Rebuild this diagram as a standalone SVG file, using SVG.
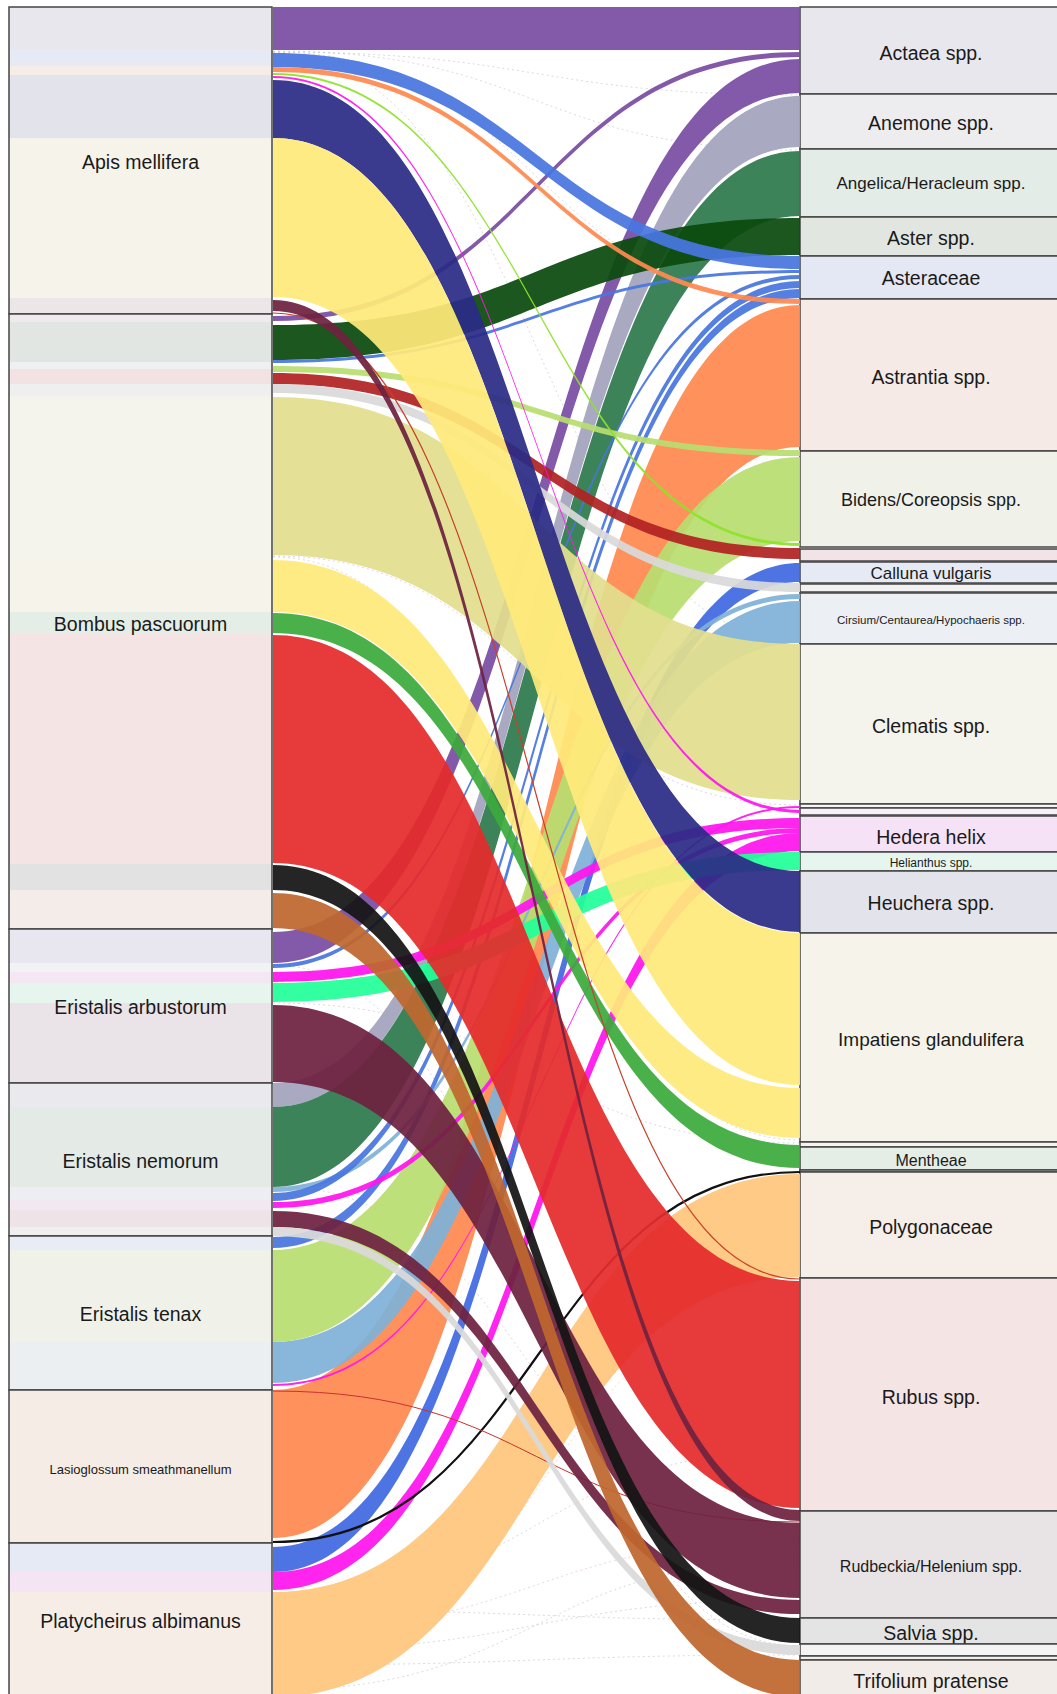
<svg xmlns="http://www.w3.org/2000/svg" width="1057" height="1694" viewBox="0 0 1057 1694">
  <style>
    .box{fill:none;stroke:#444;stroke-width:1.5}
    .lbl{font-family:"Liberation Sans",Arial,sans-serif;font-size:19.5px;fill:#1a1a1a;text-anchor:middle}
    .pu{fill:#7A4EA3}.an{fill:#A3A3BC}.ag{fill:#2E7A4E}.as{fill:#0B4A0E}.bl{fill:#4876E0}
    .or{fill:#FF8A50}.lg{fill:#B8DE70}.ch{fill:#8EE22A}.dr{fill:#B22222}.cb{fill:#4169E1}
    .gy{fill:#D9D9D9}.lb{fill:#80B2D8}.kh{fill:#E2DF8E}.mg{fill:#FF14EE}.sg{fill:#22FF99}
    .nv{fill:#2B2B85}.ye{fill:#FFE97A}.gr{fill:#3CAA3C}.po{fill:#FFC67C}.rd{fill:#E52B2B}
    .mr{fill:#6E2240}.bk{fill:#141414}.br{fill:#C0672E}
    .minor{fill:none;stroke:#8a8a9a;stroke-width:0.8;stroke-dasharray:2 3;opacity:0.4}
  </style>
  <rect width="1057" height="1694" fill="#ffffff"/>

  <!-- insect (left) nodes -->
  <g id="node-apis-mellifera">
    <rect x="9" y="7" width="263" height="43" fill="#E9E7EE"/>
    <rect x="9" y="50" width="263" height="16" fill="#E6EAF4"/>
    <rect x="9" y="66" width="263" height="9" fill="#F6EEE6"/>
    <rect x="9" y="75" width="263" height="63" fill="#E3E3EC"/>
    <rect x="9" y="138" width="263" height="160" fill="#F6F4EA"/>
    <rect x="9" y="298" width="263" height="16" fill="#EDE6E8"/>
    <rect class="box" x="9" y="7" width="263" height="307"/>
    <text class="lbl" x="140.5" y="169">Apis mellifera</text>
  </g>
  <g id="node-bombus-pascuorum">
    <rect x="9" y="314" width="263" height="8" fill="#EEEAEE"/>
    <rect x="9" y="322" width="263" height="40" fill="#E2E6E2"/>
    <rect x="9" y="362" width="263" height="7" fill="#EEF0F2"/>
    <rect x="9" y="369" width="263" height="15" fill="#F2E2E4"/>
    <rect x="9" y="384" width="263" height="12" fill="#EFEFF0"/>
    <rect x="9" y="396" width="263" height="162" fill="#F4F3EC"/>
    <rect x="9" y="558" width="263" height="54" fill="#F6F4EA"/>
    <rect x="9" y="612" width="263" height="22" fill="#E4EDE6"/>
    <rect x="9" y="634" width="263" height="230" fill="#F4E4E4"/>
    <rect x="9" y="864" width="263" height="26" fill="#E2E2E2"/>
    <rect x="9" y="890" width="263" height="39" fill="#F4ECE8"/>
    <rect class="box" x="9" y="314" width="263" height="615"/>
    <text class="lbl" x="140.5" y="631">Bombus pascuorum</text>
  </g>
  <g id="node-eristalis-arbustorum">
    <rect x="9" y="929" width="263" height="34" fill="#E8E6EE"/>
    <rect x="9" y="963" width="263" height="9" fill="#F2F2F4"/>
    <rect x="9" y="972" width="263" height="11" fill="#F4E6F2"/>
    <rect x="9" y="983" width="263" height="20" fill="#E6F6EE"/>
    <rect x="9" y="1003" width="263" height="80" fill="#EAE4E8"/>
    <rect class="box" x="9" y="929" width="263" height="154"/>
    <text class="lbl" x="140.5" y="1014">Eristalis arbustorum</text>
  </g>
  <g id="node-eristalis-nemorum">
    <rect x="9" y="1083" width="263" height="24" fill="#EAEAEE"/>
    <rect x="9" y="1107" width="263" height="80" fill="#E4EAE6"/>
    <rect x="9" y="1187" width="263" height="13" fill="#ECEEF2"/>
    <rect x="9" y="1200" width="263" height="10" fill="#F2E8F2"/>
    <rect x="9" y="1210" width="263" height="17" fill="#EEE4E8"/>
    <rect x="9" y="1227" width="263" height="9" fill="#EFEFEF"/>
    <rect class="box" x="9" y="1083" width="263" height="153"/>
    <text class="lbl" x="140.5" y="1168">Eristalis nemorum</text>
  </g>
  <g id="node-eristalis-tenax">
    <rect x="9" y="1236" width="263" height="14" fill="#E8ECF4"/>
    <rect x="9" y="1250" width="263" height="92" fill="#F0F2EA"/>
    <rect x="9" y="1342" width="263" height="48" fill="#ECEFF2"/>
    <rect class="box" x="9" y="1236" width="263" height="154"/>
    <text class="lbl" x="140.5" y="1321">Eristalis tenax</text>
  </g>
  <g id="node-lasioglossum-smeathmanellum">
    <rect x="9" y="1390" width="263" height="153" fill="#F5ECE6"/>
    <rect class="box" x="9" y="1390" width="263" height="153"/>
    <text class="lbl" x="140.5" y="1473.5" style="font-size:13px">Lasioglossum smeathmanellum</text>
  </g>
  <g id="node-platycheirus-albimanus">
    <rect x="9" y="1543" width="263" height="29" fill="#E6EAF4"/>
    <rect x="9" y="1572" width="263" height="20" fill="#F4E4F4"/>
    <rect x="9" y="1592" width="263" height="110" fill="#F6EEE6"/>
    <rect class="box" x="9" y="1543" width="263" height="160"/>
    <text class="lbl" x="140.5" y="1628">Platycheirus albimanus</text>
  </g>

  <!-- plant (right) nodes -->
  <g id="node-actaea"><rect x="800" y="7" width="262" height="87" style="fill:#E9E7EE" class="box"/><text class="lbl" x="931" y="60">Actaea spp.</text></g>
  <g id="node-anemone"><rect x="800" y="94" width="262" height="55" style="fill:#EDEDF0" class="box"/><text class="lbl" x="931" y="130">Anemone spp.</text></g>
  <g id="node-angelica"><rect x="800" y="149" width="262" height="68" style="fill:#E3ECE6" class="box"/><text class="lbl" x="931" y="189" style="font-size:17px">Angelica/Heracleum spp.</text></g>
  <g id="node-aster"><rect x="800" y="217" width="262" height="39" style="fill:#E2E6E0" class="box"/><text class="lbl" x="931" y="245">Aster spp.</text></g>
  <g id="node-asteraceae"><rect x="800" y="256" width="262" height="43" style="fill:#E4E8F4" class="box"/><text class="lbl" x="931" y="285">Asteraceae</text></g>
  <g id="node-astrantia"><rect x="800" y="299" width="262" height="152" style="fill:#F5EAE6" class="box"/><text class="lbl" x="931" y="384">Astrantia spp.</text></g>
  <g id="node-bidens"><rect x="800" y="451" width="262" height="96" style="fill:#F0F2EA" class="box"/><text class="lbl" x="931" y="506" style="font-size:18px">Bidens/Coreopsis spp.</text></g>
  <g id="node-small-1"><rect x="800" y="549" width="262" height="12" style="fill:#F2E4E6" class="box"/></g>
  <g id="node-calluna"><rect x="800" y="562" width="262" height="21" style="fill:#E6EAF4" class="box"/><text class="lbl" x="931" y="579" style="font-size:17px">Calluna vulgaris</text></g>
  <g id="node-small-2"><rect x="800" y="584" width="262" height="8" style="fill:#F2F2F2" class="box"/></g>
  <g id="node-cirsium"><rect x="800" y="593" width="262" height="51" style="fill:#ECF0F4" class="box"/><text class="lbl" x="931" y="624" style="font-size:11.5px">Cirsium/Centaurea/Hypochaeris spp.</text></g>
  <g id="node-clematis"><rect x="800" y="644" width="262" height="160" style="fill:#F4F3EC" class="box"/><text class="lbl" x="931" y="733">Clematis spp.</text></g>
  <g id="node-small-3"><rect x="800" y="804" width="262" height="4" style="fill:#F8F4F8" class="box"/></g>
  <g id="node-small-4"><rect x="800" y="808" width="262" height="7" style="fill:#F8F0F8" class="box"/></g>
  <g id="node-hedera"><rect x="800" y="816" width="262" height="36" style="fill:#F6E2F6" class="box"/><text class="lbl" x="931" y="844">Hedera helix</text></g>
  <g id="node-helianthus"><rect x="800" y="852" width="262" height="19" style="fill:#E6F6EE" class="box"/><text class="lbl" x="931" y="867" style="font-size:12px">Helianthus spp.</text></g>
  <g id="node-heuchera"><rect x="800" y="871" width="262" height="62" style="fill:#E3E3EC" class="box"/><text class="lbl" x="931" y="910">Heuchera spp.</text></g>
  <g id="node-impatiens"><rect x="800" y="933" width="262" height="209" style="fill:#F6F4EA" class="box"/><text class="lbl" x="931" y="1046" style="font-size:19px">Impatiens glandulifera</text></g>
  <g id="node-small-5"><rect x="800" y="1142" width="262" height="5" style="fill:#F4F4F0" class="box"/></g>
  <g id="node-mentheae"><rect x="800" y="1147" width="262" height="23" style="fill:#E4EEE6" class="box"/><text class="lbl" x="931" y="1165.5" style="font-size:16px">Mentheae</text></g>
  <g id="node-small-6"><rect x="800" y="1170" width="262" height="2" style="fill:#F0F0F0" class="box"/></g>
  <g id="node-polygonaceae"><rect x="800" y="1172" width="262" height="106" style="fill:#F6EEE8" class="box"/><text class="lbl" x="931" y="1234">Polygonaceae</text></g>
  <g id="node-rubus"><rect x="800" y="1278" width="262" height="233" style="fill:#F4E4E4" class="box"/><text class="lbl" x="931" y="1404">Rubus spp.</text></g>
  <g id="node-rudbeckia"><rect x="800" y="1511" width="262" height="107" style="fill:#E8E4E6" class="box"/><text class="lbl" x="931" y="1571.5" style="font-size:16px">Rudbeckia/Helenium spp.</text></g>
  <g id="node-salvia"><rect x="800" y="1618" width="262" height="26" style="fill:#E4E4E4" class="box"/><text class="lbl" x="931" y="1640">Salvia spp.</text></g>
  <g id="node-small-7"><rect x="800" y="1644" width="262" height="12" style="fill:#F4F4F4" class="box"/></g>
  <g id="node-small-8"><rect x="800" y="1656" width="262" height="4" style="fill:#F0F0F0" class="box"/></g>
  <g id="node-trifolium"><rect x="800" y="1660" width="262" height="40" style="fill:#F2ECE8" class="box"/><text class="lbl" x="931" y="1688">Trifolium pratense</text></g>

  <!-- faint minor interactions -->
  <g id="minor-links">
    <path class="minor" d="M273 51 C536 51 536 150 800 150"/>
    <path class="minor" d="M273 52 C536 52 536 300 800 300"/>
    <path class="minor" d="M273 52 C536 52 536 95 800 95"/>
    <path class="minor" d="M273 53 C536 53 536 640 800 640"/>
    <path class="minor" d="M273 1610 C536 1610 536 1620 800 1620"/>
    <path class="minor" d="M273 1630 C536 1630 536 1540 800 1540" style="stroke:#c08090"/>
    <path class="minor" d="M273 1650 C536 1650 536 1600 800 1600"/>
    <path class="minor" d="M273 1665 C536 1665 536 1655 800 1655"/>
    <path class="minor" d="M273 1680 C536 1680 536 1300 800 1300" style="stroke:#c08090"/>
    <path class="minor" d="M273 1600 C536 1600 536 1450 800 1450"/>
    <path class="minor" d="M273 1690 C536 1690 536 1560 800 1560"/>
    <path class="minor" d="M273 557 C536 557 536 1140 800 1140"/>
    <path class="minor" d="M273 556 C536 556 536 805 800 805" style="stroke:#a070c0"/>
    <path class="minor" d="M273 965 C536 965 536 1646 800 1646"/>
    <path class="minor" d="M273 1003 C536 1003 536 1143 800 1143"/>
    <path class="minor" d="M273 1186 C536 1186 536 1560 800 1560"/>
  </g>

  <!-- interaction bands -->
  <g id="links" fill-opacity="0.93">
    <!-- Platycheirus albimanus -->
    <path class="po" d="M273 1592 C536.5 1592 536.5 1174 800 1174 L800 1277 C536.5 1277 536.5 1697 273 1697 Z"/>
    <path class="mg" d="M273 1572 C536.5 1572 536.5 833 800 833 L800 851 C536.5 851 536.5 1590 273 1590 Z"/>
    <path class="cb" d="M273 1547 C536.5 1547 536.5 563 800 563 L800 582 C536.5 582 536.5 1572 273 1572 Z"/>
    <!-- Lasioglossum smeathmanellum -->
    <path class="or" d="M273 1390 C536.5 1390 536.5 305 800 305 L800 447 C536.5 447 536.5 1538 273 1538 Z"/>
    <path d="M273 1542 C536.5 1542 536.5 1172 800 1172" fill="none" stroke="#111" stroke-width="2.2"/>
    <path d="M273 1391 C536.5 1391 536.5 1522 800 1522" fill="none" stroke="#C83030" stroke-width="1"/>
    <!-- Eristalis tenax -->
    <path class="lb" d="M273 1342 C536.5 1342 536.5 601 800 601 L800 643 C536.5 643 536.5 1383 273 1383 Z"/>
    <path class="lg" d="M273 1250 C536.5 1250 536.5 457 800 457 L800 541 C536.5 541 536.5 1342 273 1342 Z"/>
    <path class="bl" d="M273 1237 C536.5 1237 536.5 289 800 289 L800 298 C536.5 298 536.5 1248 273 1248 Z"/>
    <path class="mg" d="M273 1384 C536.5 1384 536.5 806 800 806 L800 808 C536.5 808 536.5 1386 273 1386 Z"/>
    <!-- Eristalis nemorum -->
    <path class="an" d="M273 1083 C536.5 1083 536.5 96 800 96 L800 147 C536.5 147 536.5 1107 273 1107 Z"/>
    <path class="ag" d="M273 1107 C536.5 1107 536.5 151 800 151 L800 216 C536.5 216 536.5 1187 273 1187 Z"/>
    <path class="lb" d="M273 1187 C536.5 1187 536.5 594 800 594 L800 599 C536.5 599 536.5 1192 273 1192 Z"/>
    <path class="bl" d="M273 1193 C536.5 1193 536.5 281 800 281 L800 288 C536.5 288 536.5 1201 273 1201 Z"/>
    <path class="mg" d="M273 1202 C536.5 1202 536.5 828 800 828 L800 833 C536.5 833 536.5 1208 273 1208 Z"/>
    <path class="mr" d="M273 1211 C536.5 1211 536.5 1600 800 1600 L800 1614 C536.5 1614 536.5 1227 273 1227 Z"/>
    <path class="gy" d="M273 1227 C536.5 1227 536.5 1645 800 1645 L800 1655 C536.5 1655 536.5 1236 273 1236 Z"/>
    <!-- Eristalis arbustorum -->
    <path class="pu" d="M273 932 C536.5 932 536.5 59 800 59 L800 93 C536.5 93 536.5 963 273 963 Z"/>
    <path class="bl" d="M273 964 C536.5 964 536.5 275 800 275 L800 279 C536.5 279 536.5 968 273 968 Z"/>
    <path class="mg" d="M273 972 C536.5 972 536.5 818 800 818 L800 828 C536.5 828 536.5 982 273 982 Z"/>
    <path class="sg" d="M273 983 C536.5 983 536.5 852 800 852 L800 870 C536.5 870 536.5 1002 273 1002 Z"/>
    <path class="mr" d="M273 1005 C536.5 1005 536.5 1523 800 1523 L800 1598 C536.5 1598 536.5 1082 273 1082 Z"/>
    <!-- Bombus pascuorum -->
    <path class="pu" d="M273 316 C536.5 316 536.5 52 800 52 L800 57 C536.5 57 536.5 321 273 321 Z"/>
    <path class="as" d="M273 325 C536.5 325 536.5 218 800 218 L800 255 C536.5 255 536.5 360 273 360 Z"/>
    <path class="bl" d="M273 360 C536.5 360 536.5 270 800 270 L800 273 C536.5 273 536.5 363 273 363 Z"/>
    <path class="lg" d="M273 366 C536.5 366 536.5 450 800 450 L800 456 C536.5 456 536.5 372 273 372 Z"/>
    <path class="dr" d="M273 373 C536.5 373 536.5 548 800 548 L800 559 C536.5 559 536.5 384 273 384 Z"/>
    <path class="gy" d="M273 384 C536.5 384 536.5 583 800 583 L800 592 C536.5 592 536.5 393 273 393 Z"/>
    <path class="kh" d="M273 397 C536.5 397 536.5 644 800 644 L800 800 C536.5 800 536.5 555 273 555 Z"/>
    <path class="ye" d="M273 560 C536.5 560 536.5 1088 800 1088 L800 1138 C536.5 1138 536.5 612 273 612 Z"/>
    <path class="gr" d="M273 613 C536.5 613 536.5 1145 800 1145 L800 1168 C536.5 1168 536.5 633 273 633 Z"/>
    <path class="rd" d="M273 635 C536.5 635 536.5 1281 800 1281 L800 1508 C536.5 1508 536.5 863 273 863 Z"/>
    <path class="bk" d="M273 865 C536.5 865 536.5 1618 800 1618 L800 1643 C536.5 1643 536.5 890 273 890 Z"/>
    <path class="br" d="M273 893 C536.5 893 536.5 1660 800 1660 L800 1697 C536.5 1697 536.5 928 273 928 Z"/>
    <path d="M273 313 C536.5 313 536.5 1279 800 1279" fill="none" stroke="#C8402A" stroke-width="1.2"/>
    <!-- Apis mellifera -->
    <path class="pu" d="M273 7 L800 7 L800 50 L273 50 Z"/>
    <path class="bl" d="M273 53 C536.5 53 536.5 256 800 256 L800 269 C536.5 269 536.5 67 273 67 Z"/>
    <path class="or" d="M273 67 C536.5 67 536.5 299 800 299 L800 304 C536.5 304 536.5 72 273 72 Z"/>
    <path class="ch" d="M273 73 C536.5 73 536.5 543 800 543 L800 546 C536.5 546 536.5 75 273 75 Z"/>
    <path class="mg" d="M273 76 C536.5 76 536.5 810 800 810 L800 813 C536.5 813 536.5 78 273 78 Z"/>
    <path class="nv" d="M273 80 C536.5 80 536.5 871 800 871 L800 932 C536.5 932 536.5 138 273 138 Z"/>
    <path class="ye" d="M273 138 C536.5 138 536.5 933 800 933 L800 1085 C536.5 1085 536.5 297 273 297 Z"/>
    <path class="mr" d="M273 300 C536.5 300 536.5 1510 800 1510 L800 1521 C536.5 1521 536.5 311 273 311 Z"/>
  </g>
</svg>
